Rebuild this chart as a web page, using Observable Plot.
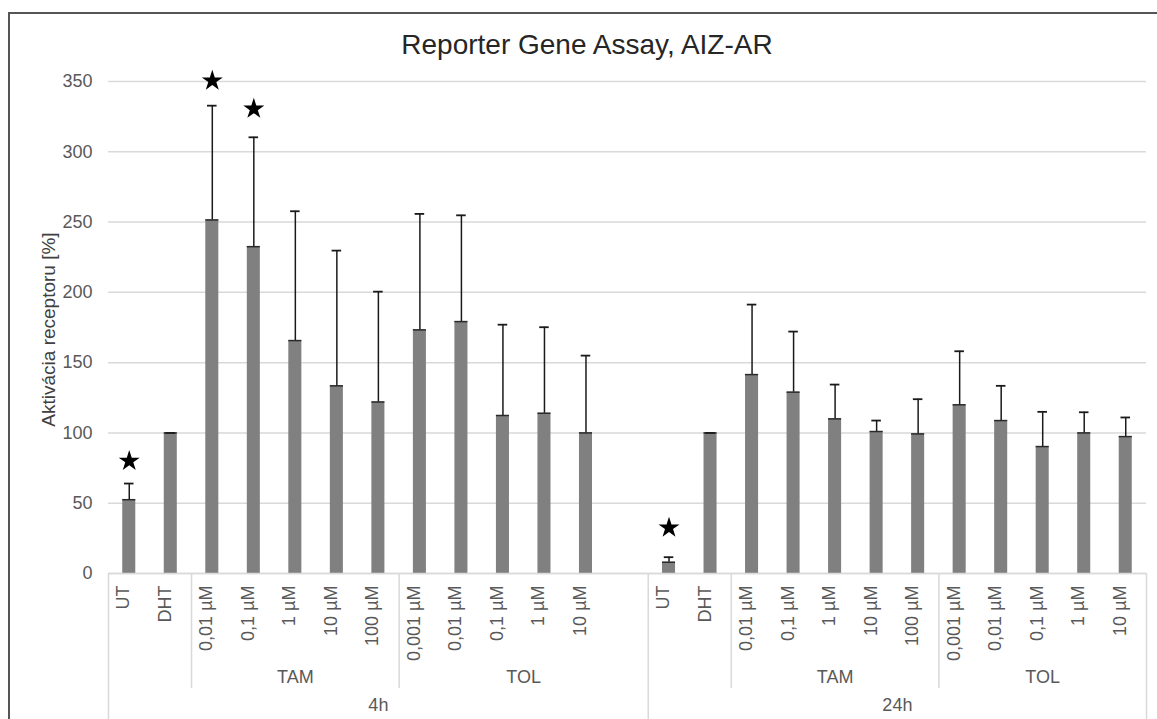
<!DOCTYPE html>
<html>
<head>
<meta charset="utf-8">
<script src="https://cdn.jsdelivr.net/npm/d3@7"></script>
<script src="https://cdn.jsdelivr.net/npm/@observablehq/plot@0.6"></script>
<style>
  body { margin: 0; background: #fff; font-family: "Liberation Sans", Arial, sans-serif; }
  #wrap { position: relative; width: 1157px; height: 719px; overflow: hidden; background: #fff; }
  #frame { position: absolute; left: 8px; top: 12px; width: 1300px; height: 900px; border: 2px solid #555; box-sizing: border-box; }
  #title { position: absolute; top: 29px; left: 0; width: 1174px; text-align: center; font-size: 28px; color: #262626; white-space: nowrap; }
  #chart { position: absolute; left: 0; top: 60px; }
</style>
</head>
<body>
<div id="wrap">
  <div id="frame"></div>
  <div id="title">Reporter Gene Assay, AIZ-AR</div>
  <div id="chart"></div>
</div>
<script>
// ---- data ----
const timepoints = ["4h", "24h"];

const categories4h = ["UT", "DHT", "0,01 µM", "0,1 µM", "1 µM", "10 µM", "100 µM", "0,001 µM", "0,01 µM", "0,1 µM", "1 µM", "10 µM"];
const drugs4h      = ["", "", "TAM", "TAM", "TAM", "TAM", "TAM", "TOL", "TOL", "TOL", "TOL", "TOL"];
const values4h     = [52.5, 100, 251.5, 232.5, 165.7, 133.5, 122, 173.3, 179.2, 112.4, 114, 100];
const errors4h     = [11.5, 0, 81.3, 77.8, 92, 96.2, 78.5, 82.5, 75.6, 64.6, 61.2, 55];
const stars4h      = [80, null, 350.5, 330.5, null, null, null, null, null, null, null, null];

const categories24h = ["UT", "DHT", "0,01 µM", "0,1 µM", "1 µM", "10 µM", "100 µM", "0,001 µM", "0,01 µM", "0,1 µM", "1 µM", "10 µM"];
const drugs24h      = ["", "", "TAM", "TAM", "TAM", "TAM", "TAM", "TOL", "TOL", "TOL", "TOL", "TOL"];
const values24h     = [8, 100, 141.5, 129, 110, 101, 99.3, 120, 108.8, 90.3, 100, 97.4];
const errors24h     = [3.6, 0, 49.8, 43.1, 24.4, 7.8, 24.7, 38.1, 24.7, 24.7, 14.7, 13.6];
const stars24h      = [32.5, null, null, null, null, null, null, null, null, null, null, null];

const yTicks = [0, 50, 100, 150, 200, 250, 300, 350];
const yLabel = "Aktivácia receptoru [%]";

// ---- build table (4h block has one empty trailing slot, as in the original) ----
const blocks = [
  {time: timepoints[0], cats: categories4h, drugs: drugs4h, vals: values4h, errs: errors4h, stars: stars4h, slots: 13},
  {time: timepoints[1], cats: categories24h, drugs: drugs24h, vals: values24h, errs: errors24h, stars: stars24h, slots: 12}
];
const bars = [], drugGroups = [], timeGroups = [], fullSeps = [], groupSeps = [];
let offset = 0;
for (const b of blocks) {
  fullSeps.push(offset);
  timeGroups.push({label: b.time, center: offset + b.slots / 2});
  b.cats.forEach((c, i) => {
    bars.push({slot: offset + i, label: c, value: b.vals[i], err: b.errs[i], star: b.stars[i]});
  });
  let i = 0;
  while (i < b.drugs.length) {
    const d = b.drugs[i];
    let j = i;
    while (j < b.drugs.length && b.drugs[j] === d) j++;
    if (d) {
      const end = j === b.drugs.length ? b.slots : j;
      groupSeps.push(offset + i);
      drugGroups.push({label: d, center: offset + (i + end) / 2});
    }
    i = j;
  }
  offset += b.slots;
}
fullSeps.push(offset);
const nSlots = offset;

const hw = 0.157;   // half bar width in slot units
const cap = 0.115;  // half cap width
const font = "Liberation Sans, Arial, sans-serif";
const txt = "#595959";

const chart = Plot.plot({
  width: 1157,
  height: 659,
  marginLeft: 108,
  marginRight: 11,
  marginTop: 21,
  marginBottom: 146,
  style: {background: "transparent", fontFamily: font, color: txt, overflow: "visible"},
  x: {domain: [0, nSlots], axis: null},
  y: {domain: [0, 350], axis: null},
  marks: [
    Plot.ruleY(yTicks, {y: d => d, stroke: "#d9d9d9", strokeWidth: 1.5}),
    Plot.text(yTicks, {y: d => d, text: d => String(d), frameAnchor: "left", textAnchor: "end", dx: -16, fontSize: 18, fill: txt}),
    Plot.text([yLabel], {text: d => d, frameAnchor: "left", textAnchor: "middle", rotate: -90, dx: -60, dy: 2, fontSize: 19, fill: "#404040"}),
    Plot.ruleX(fullSeps, {x: d => d, y1: 0, y2: 0, insetBottom: -150, stroke: "#d9d9d9", strokeWidth: 1.5}),
    Plot.ruleX(groupSeps, {x: d => d, y1: 0, y2: 0, insetBottom: -115, stroke: "#d9d9d9", strokeWidth: 1.5}),
    Plot.rect(bars, {x1: d => d.slot + 0.5 - hw, x2: d => d.slot + 0.5 + hw, y1: 0, y2: d => d.value, fill: "#808080"}),
    Plot.ruleY(bars, {y: d => d.value, x1: d => d.slot + 0.5 - hw, x2: d => d.slot + 0.5 + hw, stroke: "#2a2a2a", strokeWidth: 1.5}),
    Plot.ruleX(bars, {x: d => d.slot + 0.5, y1: d => d.value, y2: d => d.value + d.err, stroke: "#1a1a1a", strokeWidth: 1.5}),
    Plot.ruleY(bars, {y: d => d.value + d.err, x1: d => d.slot + 0.5 - cap, x2: d => d.slot + 0.5 + cap, stroke: "#1a1a1a", strokeWidth: 1.8}),
    Plot.dot(bars.filter(d => d.star != null), {x: d => d.slot + 0.5, y: d => d.star, symbol: "star", r: 6.6, fill: "#000", stroke: "none"}),
    Plot.text(bars, {x: d => d.slot + 0.5, text: d => d.label, frameAnchor: "bottom", rotate: -90, textAnchor: "end", dy: 12, fontSize: 18, fill: txt}),
    Plot.text(drugGroups, {x: d => d.center, text: d => d.label, frameAnchor: "bottom", dy: 109, fontSize: 18, fill: txt}),
    Plot.text(timeGroups, {x: d => d.center, text: d => d.label, frameAnchor: "bottom", dy: 137, fontSize: 18, fill: txt}),
    Plot.ruleY([0], {stroke: "#d9d9d9", strokeWidth: 1.5})
  ]
});
document.getElementById("chart").appendChild(chart);
</script>
</body>
</html>
